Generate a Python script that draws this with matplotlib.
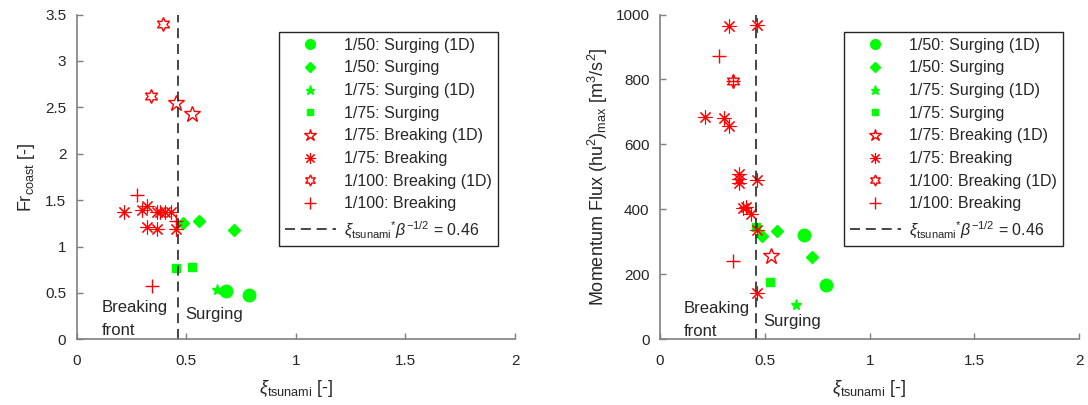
import matplotlib
matplotlib.use("Agg")
import matplotlib.pyplot as plt
from matplotlib.lines import Line2D

plt.rcParams['font.family'] = ['Liberation Sans', 'DejaVu Sans']
plt.rcParams['mathtext.fontset'] = 'custom'
plt.rcParams['mathtext.rm'] = 'Liberation Sans'
plt.rcParams['mathtext.it'] = 'Liberation Sans:italic'

# ---------------- data: left panel (Froude number) ----------------
fr_c50_1d_x = [0.682, 0.785]
fr_c50_1d_y = [0.52, 0.48]
fr_d50_x = [0.484, 0.557, 0.72]
fr_d50_y = [1.25, 1.28, 1.18]
fr_s75_1d_x = [0.642]
fr_s75_1d_y = [0.53]
fr_q75_x = [0.452, 0.525]
fr_q75_y = [0.77, 0.78]
fr_b75_1d_x = [0.452, 0.525]
fr_b75_1d_y = [2.55, 2.43]
fr_b75_x = [0.216, 0.299, 0.32, 0.32, 0.367, 0.367, 0.38, 0.405, 0.431, 0.454]
fr_b75_y = [1.37, 1.39, 1.44, 1.21, 1.37, 1.19, 1.37, 1.37, 1.37, 1.19]
fr_b100_1d_x = [0.396, 0.34]
fr_b100_1d_y = [3.40, 2.62]
fr_b100_x = [0.276, 0.342, 0.455]
fr_b100_y = [1.56, 0.57, 1.28]

# ---------------- data: right panel (momentum flux) ----------------
mf_c50_1d_x = [0.687, 0.79]
mf_c50_1d_y = [320, 166]
mf_d50_x = [0.486, 0.56, 0.727]
mf_d50_y = [317, 334, 254]
mf_s75_1d_x = [0.648]
mf_s75_1d_y = [105]
mf_q75_x = [0.46, 0.525]
mf_q75_y = [346, 177]
mf_b75_1d_x = [0.529]
mf_b75_1d_y = [256]
mf_b75_x = [0.327, 0.462, 0.214, 0.303, 0.33, 0.378, 0.378, 0.378, 0.462,
            0.394, 0.41, 0.433, 0.462, 0.462]
mf_b75_y = [964, 968, 683, 680, 657, 510, 495, 480, 490, 403, 408, 387, 336, 143]
mf_b100_1d_x = [0.346]
mf_b100_1d_y = [795]
mf_b100_x = [0.283, 0.346, 0.346]
mf_b100_y = [872, 795, 241]

threshold = 0.46
x_ticks = [0, 0.5, 1, 1.5, 2]
x_tick_labels = ['0', '0.5', '1', '1.5', '2']
fr_ticks = [0, 0.5, 1, 1.5, 2, 2.5, 3, 3.5]
fr_tick_labels = ['0', '0.5', '1', '1.5', '2', '2.5', '3', '3.5']
mf_ticks = [0, 200, 400, 600, 800, 1000]
mf_tick_labels = ['0', '200', '400', '600', '800', '1000']

labels = ['1/50: Surging (1D)', '1/50: Surging', '1/75: Surging (1D)', '1/75: Surging',
          '1/75: Breaking (1D)', '1/75: Breaking', '1/100: Breaking (1D)', '1/100: Breaking',
          r'$\xi_{\mathrm{tsunami}}$$^{*}\beta^{-1/2}$ = 0.46']

GREEN = '#00ff00'
RED = '#ff0000'
AX = '#262626'

fig = plt.figure(figsize=(10.88, 4.05), dpi=100)
axL = fig.add_axes([76.7 / 1088, (405 - 339.3) / 405, 438.3 / 1088, 324.8 / 405])
axR = fig.add_axes([660 / 1088, (405 - 339.3) / 405, 419.3 / 1088, 324.8 / 405])


def draw(ax, data, ymax, yticks, ytl, ylabel, ylabelpad, txt):
    (c1x, c1y, d50x, d50y, s1x, s1y, qx, qy, b1x, b1y, bx, by, h1x, h1y, px, py) = data
    ax.plot(c1x, c1y, 'o', color=GREEN, ms=9, mec=GREEN, ls='none')
    ax.plot(d50x, d50y, 'D', color=GREEN, ms=6.5, mec=GREEN, ls='none')
    ax.plot(s1x, s1y, '*', color=GREEN, ms=8, mec=GREEN, ls='none')
    ax.plot(qx, qy, 's', color=GREEN, ms=6, mec=GREEN, ls='none')
    ax.plot(b1x, b1y, '*', mfc='none', mec=RED, ms=12, mew=1.0, ls='none')
    ax.plot(bx, by, marker=(8, 2, 0), color=RED, mec=RED, ms=10, mew=0.8, ls='none')
    ax.plot(h1x, h1y, marker=(6, 1, 0), mfc='none', mec=RED, ms=10, mew=1.0, ls='none')
    ax.plot(px, py, '+', color=RED, mec=RED, ms=10, mew=1.0, ls='none')
    ax.axvline(threshold, color=AX, lw=1.2, dashes=(6, 3.5))

    ax.set_xlim(0, 2)
    ax.set_ylim(0, ymax)
    ax.set_xticks(x_ticks)
    ax.set_xticklabels(x_tick_labels)
    ax.set_yticks(yticks)
    ax.set_yticklabels(ytl)
    for s in ['top', 'right']:
        ax.spines[s].set_visible(False)
    for s in ['left', 'bottom']:
        ax.spines[s].set_color('#7f7f7f')
        ax.spines[s].set_linewidth(1.2)
    ax.tick_params(direction='in', length=4, width=1, colors='#7f7f7f',
                   labelcolor=AX, labelsize=11)
    ax.tick_params(axis='x', pad=10.5)
    ax.tick_params(axis='y', pad=7.5)
    ax.set_xlabel(r'$\xi_{\mathrm{tsunami}}$ [-]', fontsize=13, color=AX, labelpad=7)
    ax.set_ylabel(ylabel, fontsize=13, color=AX, labelpad=ylabelpad)

    (bx0, by0, fy0, sx0, sy0) = txt
    ax.text(bx0, by0, 'Breaking', fontsize=12, color=AX, ha='left', va='center')
    ax.text(bx0, fy0, 'front', fontsize=12, color=AX, ha='left', va='center')
    ax.text(sx0, sy0, 'Surging', fontsize=12, color=AX, ha='left', va='center')

    handles = [
        Line2D([], [], ls='none', marker='o', color=GREEN, ms=7),
        Line2D([], [], ls='none', marker='D', color=GREEN, ms=5.5),
        Line2D([], [], ls='none', marker='*', color=GREEN, ms=6.5),
        Line2D([], [], ls='none', marker='s', color=GREEN, ms=5),
        Line2D([], [], ls='none', marker='*', mfc='none', mec=RED, ms=9, mew=1.0),
        Line2D([], [], ls='none', marker=(8, 2, 0), color=RED, ms=8, mew=0.8),
        Line2D([], [], ls='none', marker=(6, 1, 0), mfc='none', mec=RED, ms=8, mew=1.0),
        Line2D([], [], ls='none', marker='+', color=RED, ms=8, mew=1.0),
        Line2D([], [], color=AX, lw=1.2, dashes=(6, 3.5)),
    ]
    leg = ax.legend(handles, labels, loc='upper right', bbox_to_anchor=(0.961, 0.947),
                    fontsize=11.5, frameon=True, fancybox=False, framealpha=1,
                    edgecolor=AX, handlelength=3.2, handletextpad=0.5,
                    labelspacing=0.48, borderpad=0.38, borderaxespad=0, numpoints=1)
    leg.get_frame().set_linewidth(1.0)
    for t in leg.get_texts():
        t.set_color(AX)


draw(axL, (fr_c50_1d_x, fr_c50_1d_y, fr_d50_x, fr_d50_y, fr_s75_1d_x, fr_s75_1d_y,
           fr_q75_x, fr_q75_y, fr_b75_1d_x, fr_b75_1d_y, fr_b75_x, fr_b75_y,
           fr_b100_1d_x, fr_b100_1d_y, fr_b100_x, fr_b100_y),
     3.5, fr_ticks, fr_tick_labels, r'Fr$_{\mathrm{coast}}$ [-]', 6,
     (0.114, 0.345, 0.10, 0.495, 0.27))

draw(axR, (mf_c50_1d_x, mf_c50_1d_y, mf_d50_x, mf_d50_y, mf_s75_1d_x, mf_s75_1d_y,
           mf_q75_x, mf_q75_y, mf_b75_1d_x, mf_b75_1d_y, mf_b75_x, mf_b75_y,
           mf_b100_1d_x, mf_b100_1d_y, mf_b100_x, mf_b100_y),
     1000, mf_ticks, mf_tick_labels,
     r'Momentum Flux (hu$^{2}$)$_{\mathrm{max}}$ [m$^{3}$/s$^{2}$]', 4,
     (0.111, 95, 23, 0.491, 54))

fig.savefig('out.png', dpi=100)
